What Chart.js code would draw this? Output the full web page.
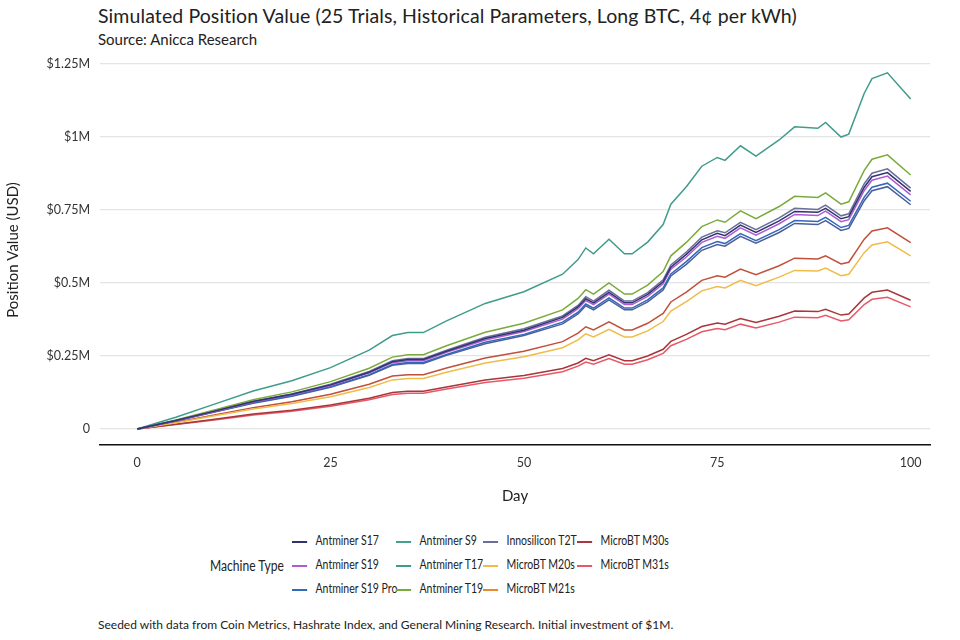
<!DOCTYPE html>
<html>
<head>
<meta charset="utf-8">
<script src="https://cdn.jsdelivr.net/npm/chart.js@4"></script>
<style>
  body { margin: 0; width: 960px; height: 640px; background: #fff; font-family: Lato, sans-serif; color: #222; position: relative; overflow: hidden; }
  #title { position: absolute; left: 98px; top: 4px; font-size: 19.5px; letter-spacing: 0.1px; }
  #sub { position: absolute; left: 98px; top: 30px; font-size: 15px; }
  #wrap { position: absolute; left: 0; top: 0; width: 960px; height: 509px; }
  #legTitle { position: absolute; left: 210px; top: 556px; font-size: 15.5px; transform: scaleX(0.78); transform-origin: left center; white-space: nowrap; }
  .li { position: absolute; font-size: 12.5px; white-space: nowrap; transform: scaleX(0.84); transform-origin: left center; }
  .li span { display: inline-block; width: 18px; height: 2px; vertical-align: middle; margin-right: 10px; }
  #foot { position: absolute; left: 98px; top: 617px; font-size: 12px; }
</style>
</head>
<body>
<div id="title">Simulated Position Value (25 Trials, Historical Parameters, Long BTC, 4¢ per kWh)</div>
<div id="sub">Source: Anicca Research</div>
<div id="wrap"><canvas id="chart" width="960" height="509"></canvas></div>
<div id="legTitle">Machine Type</div>
<div id="legend"></div>
<div id="foot">Seeded with data from Coin Metrics, Hashrate Index, and General Mining Research. Initial investment of $1M.</div>
<script>
// sampled days
const days = [0,5,10,15,20,25,30,33,35,37,40,45,50,55,57,58,59,61,63,64,66,68,69,71,73,75,76,78,80,83,85,88,89,91,92,94,95,97,100];

// values in $M
const antminerT17 = [0,.04,.085,.13,.165,.21,.27,.32,.33,.33,.37,.43,.47,.53,.58,.62,.60,.65,.60,.60,.64,.70,.77,.83,.90,.93,.92,.97,.935,.99,1.035,1.03,1.05,1.0,1.01,1.15,1.2,1.22,1.13];
const antminerT19 = [0,.031,.065,.10,.127,.162,.208,.246,.254,.254,.285,.331,.362,.408,.447,.477,.462,.50,.462,.462,.493,.539,.593,.639,.693,.716,.708,.747,.72,.762,.797,.793,.809,.77,.778,.886,.924,.939,.87];
const innosiliconT2T = [0,.029,.062,.095,.12,.153,.197,.234,.241,.241,.27,.314,.343,.387,.423,.453,.438,.475,.438,.438,.467,.511,.562,.606,.657,.679,.672,.708,.683,.723,.756,.752,.767,.73,.737,.84,.876,.891,.825];
const antminerS17 = [0,.029,.061,.094,.119,.151,.194,.23,.238,.238,.266,.31,.338,.382,.418,.446,.432,.468,.432,.432,.461,.504,.554,.598,.648,.67,.662,.698,.673,.713,.745,.742,.756,.72,.727,.828,.864,.878,.814];
const antminerS19 = [0,.028,.06,.092,.117,.149,.192,.227,.234,.234,.263,.305,.334,.376,.412,.44,.426,.462,.426,.426,.454,.497,.547,.589,.639,.66,.653,.689,.664,.703,.735,.731,.746,.71,.717,.817,.852,.866,.802];
const antminerS19Pro = [0,.028,.059,.09,.114,.145,.186,.221,.228,.228,.255,.297,.324,.366,.40,.428,.414,.449,.414,.414,.442,.483,.531,.573,.621,.642,.635,.669,.645,.683,.714,.711,.725,.69,.697,.794,.828,.842,.78];
const antminerS9 = [0,.027,.058,.088,.112,.143,.184,.218,.224,.224,.252,.292,.32,.36,.394,.422,.408,.442,.408,.408,.435,.476,.524,.564,.612,.632,.626,.66,.636,.673,.704,.70,.714,.68,.687,.782,.816,.83,.768];
const microM21s = [0,.023,.048,.073,.093,.119,.153,.181,.186,.186,.209,.243,.266,.299,.328,.35,.339,.367,.339,.339,.362,.396,.435,.469,.509,.525,.52,.548,.528,.559,.585,.582,.593,.565,.571,.65,.678,.689,.638];
const microM20s = [0,.021,.045,.068,.087,.11,.142,.168,.173,.173,.194,.226,.247,.278,.305,.326,.315,.341,.315,.315,.336,.368,.404,.436,.473,.488,.483,.509,.491,.52,.543,.541,.551,.525,.53,.604,.63,.641,.593];
const microM30s = [0,.016,.033,.051,.064,.082,.105,.125,.129,.129,.144,.168,.183,.207,.226,.242,.234,.254,.234,.234,.25,.273,.30,.324,.351,.363,.359,.378,.365,.386,.404,.402,.41,.39,.394,.449,.468,.476,.441];
const microM31s = [0,.015,.031,.048,.061,.078,.10,.118,.122,.122,.137,.159,.174,.196,.215,.229,.222,.241,.222,.222,.237,.259,.285,.307,.333,.344,.34,.359,.346,.366,.383,.381,.389,.37,.374,.426,.444,.451,.418];

const yTicks = [0, 0.25, 0.5, 0.75, 1, 1.25];
const yLabels = ['0', '$0.25M', '$0.5M', '$0.75M', '$1M', '$1.25M'];
const xTicks = [0, 25, 50, 75, 100];

const series = [
  { name: 'Antminer S17', data: antminerS17, color: '#2f3470', col: 0, row: 0 },
  { name: 'Antminer S19', data: antminerS19, color: '#b05cd0', col: 0, row: 1 },
  { name: 'Antminer S19 Pro', data: antminerS19Pro, color: '#3468b8', col: 0, row: 2 },
  { name: 'Antminer S9', data: antminerS9, color: '#4a5f9c', col: 1, row: 0, swatch: '#45a08c' },
  { name: 'Antminer T17', data: antminerT17, color: '#3f9c8c', col: 1, row: 1 },
  { name: 'Antminer T19', data: antminerT19, color: '#7aaa3c', col: 1, row: 2 },
  { name: 'Innosilicon T2T', data: innosiliconT2T, color: '#6a6e9a', col: 2, row: 0 },
  { name: 'MicroBT M20s', data: microM20s, color: '#f0bc48', col: 2, row: 1 },
  { name: 'MicroBT M21s', data: microM21s, color: '#c0503a', col: 2, row: 2, swatch: '#e8892c' },
  { name: 'MicroBT M30s', data: microM30s, color: '#a8363a', col: 3, row: 0 },
  { name: 'MicroBT M31s', data: microM31s, color: '#e85868', col: 3, row: 1 }
];

const colX = [292, 396, 483, 577];
const rowY = [533, 557, 581];
const leg = document.getElementById('legend');
series.forEach(s => {
  const d = document.createElement('div');
  d.className = 'li';
  d.style.left = colX[s.col] + 'px';
  d.style.top = rowY[s.row] + 'px';
  d.innerHTML = '<span style="background:' + (s.swatch || s.color) + '"></span>' + s.name;
  leg.appendChild(d);
});

const ctx = document.getElementById('chart').getContext('2d');
new Chart(ctx, {
  type: 'line',
  data: {
    datasets: series.map(s => ({
      label: s.name,
      data: days.map((d, i) => ({ x: d, y: s.data[i] })),
      borderColor: s.color,
      borderWidth: 1.5,
      pointRadius: 0,
      tension: 0
    }))
  },
  options: {
    responsive: false,
    animation: false,
    layout: { padding: { top: 55, right: 30 } },
    plugins: { legend: { display: false }, tooltip: { enabled: false } },
    scales: {
      x: {
        type: 'linear',
        min: -4.8, max: 102.5,
        afterBuildTicks: a => { a.ticks = xTicks.map(v => ({ value: v })); },
        afterFit: a => { a.height = 64; },
        grid: { display: false, drawTicks: true, tickColor: '#333', tickLength: 6 },
        border: { display: true, color: '#111', width: 1.5 },
        ticks: { color: '#333', padding: 4, font: { family: 'Lato', size: 12.5 } },
        title: { display: true, text: 'Day', color: '#222', font: { family: 'Lato', size: 15 }, padding: { top: 4 } }
      },
      y: {
        min: -0.055, max: 1.281,
        afterBuildTicks: a => { a.ticks = yTicks.map(v => ({ value: v })); },
        afterFit: a => { a.width = 100; },
        grid: { color: '#e4e4e4', lineWidth: 1.2, drawTicks: false },
        border: { display: false },
        ticks: {
          color: '#333', padding: 10, font: { family: 'Lato', size: 12.5 },
          callback: v => yLabels[yTicks.indexOf(v)]
        },
        title: { display: true, text: 'Position Value (USD)', color: '#222', font: { family: 'Lato', size: 15 } }
      }
    }
  }
});
</script>
</body>
</html>
